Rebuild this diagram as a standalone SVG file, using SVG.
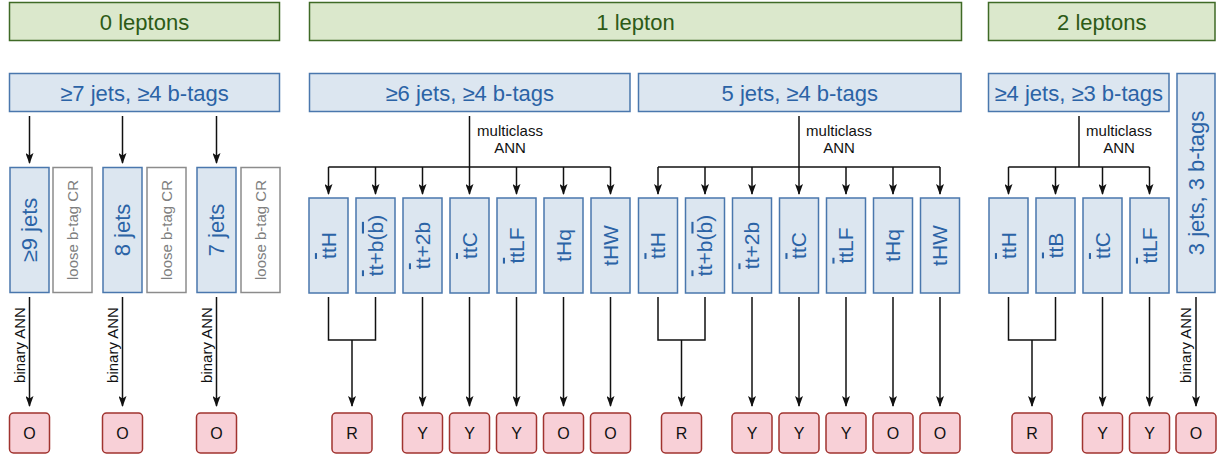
<svg xmlns="http://www.w3.org/2000/svg" width="1225" height="462" viewBox="0 0 1225 462">
<style>
.g{fill:#dbe8cc;stroke:#3f6a26;stroke-width:1.5}
.gt{fill:#2c5a16;font-family:"Liberation Sans",Arial,sans-serif;font-size:22px;text-anchor:middle}
.b{fill:#dce6f0;stroke:#4a77ad;stroke-width:1.5}
.bt{fill:#2b63a6;font-family:"Liberation Sans",Arial,sans-serif;font-size:22px;text-anchor:middle}
.ct{fill:#2b63a6;font-family:"Liberation Sans",Arial,sans-serif;font-size:21px;text-anchor:middle}
.l{fill:#ffffff;stroke:#8c8c8c;stroke-width:1.5}
.lt{fill:#7f7f7f;font-family:"Liberation Sans",Arial,sans-serif;font-size:15px;text-anchor:middle}
.r{fill:#f8d0d7;stroke:#a0332f;stroke-width:1.5}
.rt{fill:#111;font-family:"Liberation Sans",Arial,sans-serif;font-size:16px;text-anchor:middle}
.lbl{fill:#111;font-family:"Liberation Sans",Arial,sans-serif;font-size:15px;text-anchor:middle}
.ov{text-decoration:overline}
.c{fill:none;stroke:#111;stroke-width:1.5}
.a{fill:none;stroke:#111;stroke-width:1.5;marker-end:url(#ah)}
</style>
<defs>
<marker id="ah" viewBox="0 0 11 8" markerUnits="userSpaceOnUse" markerWidth="11" markerHeight="8" refX="10" refY="4" orient="auto">
<path d="M0,0 L11,4 L0,8 L2.5,4 z" fill="#111"/>
</marker>
</defs>

<!-- top category headers -->
<g id="lep0"><rect class="g" x="9.5" y="2.5" width="270" height="38"/><text class="gt" x="144.5" y="29.5">0 leptons</text></g>
<g id="lep1"><rect class="g" x="309.5" y="2.5" width="652" height="38"/><text class="gt" x="635.5" y="29.5">1 lepton</text></g>
<g id="lep2"><rect class="g" x="988.5" y="2.5" width="226.5" height="38"/><text class="gt" x="1101.75" y="29.5">2 leptons</text></g>

<!-- region headers -->
<g id="h0"><rect class="b" x="9.5" y="73.5" width="270" height="38"/><text class="bt" x="144.5" y="100.5">≥7 jets, ≥4 b-tags</text></g>
<g id="h1"><rect class="b" x="309.5" y="73.5" width="320.5" height="38"/><text class="bt" x="469.75" y="100.5">≥6 jets, ≥4 b-tags</text></g>
<g id="h2"><rect class="b" x="638.5" y="73.5" width="322.5" height="38"/><text class="bt" x="799.75" y="100.5">5 jets, ≥4 b-tags</text></g>
<g id="h3"><rect class="b" x="988.5" y="73.5" width="180.5" height="38"/><text class="bt" x="1078.75" y="100.5">≥4 jets, ≥3 b-tags</text></g>
<g id="h4"><rect class="b" x="1177" y="73.5" width="38" height="219"/><text class="bt" transform="translate(1196,183) rotate(-90)" y="7.7">3 jets, 3 b-tags</text></g>

<!-- 0 lepton jet bins -->
<g id="j9"><rect class="b" x="10" y="167.5" width="39" height="125"/><text class="bt" transform="translate(29.5,230) rotate(-90)" y="7.7">≥9 jets</text></g>
<g id="cr9"><rect class="l" x="53" y="167.5" width="39" height="125"/><text class="lt" transform="translate(72.5,230) rotate(-90)" y="5.3">loose b-tag CR</text></g>
<g id="j8"><rect class="b" x="103" y="167.5" width="39" height="125"/><text class="bt" transform="translate(122.5,230) rotate(-90)" y="7.7">8 jets</text></g>
<g id="cr8"><rect class="l" x="147" y="167.5" width="39" height="125"/><text class="lt" transform="translate(166.5,230) rotate(-90)" y="5.3">loose b-tag CR</text></g>
<g id="j7"><rect class="b" x="197" y="167.5" width="39" height="125"/><text class="bt" transform="translate(216.5,230) rotate(-90)" y="7.7">7 jets</text></g>
<g id="cr7"><rect class="l" x="241" y="167.5" width="39" height="125"/><text class="lt" transform="translate(260.5,230) rotate(-90)" y="5.3">loose b-tag CR</text></g>

<!-- 1 lepton, >=6 jets classes -->
<g id="a1"><rect class="b" x="309" y="198" width="39" height="95"/><text class="ct" transform="translate(328.5,245.5) rotate(-90)" y="7.4"><tspan class="ov">t</tspan>tH</text></g>
<g id="a2"><rect class="b" x="356" y="198" width="39" height="95"/><text class="ct" transform="translate(375.5,245.5) rotate(-90)" y="7.4"><tspan class="ov">t</tspan>t+b(<tspan class="ov">b</tspan>)</text></g>
<g id="a3"><rect class="b" x="403" y="198" width="39" height="95"/><text class="ct" transform="translate(422.5,245.5) rotate(-90)" y="7.4"><tspan class="ov">t</tspan>t+2b</text></g>
<g id="a4"><rect class="b" x="450" y="198" width="39" height="95"/><text class="ct" transform="translate(469.5,245.5) rotate(-90)" y="7.4"><tspan class="ov">t</tspan>tC</text></g>
<g id="a5"><rect class="b" x="497" y="198" width="39" height="95"/><text class="ct" transform="translate(516.5,245.5) rotate(-90)" y="7.4"><tspan class="ov">t</tspan>tLF</text></g>
<g id="a6"><rect class="b" x="544" y="198" width="39" height="95"/><text class="ct" transform="translate(563.5,245.5) rotate(-90)" y="7.4">tHq</text></g>
<g id="a7"><rect class="b" x="591" y="198" width="39" height="95"/><text class="ct" transform="translate(610.5,245.5) rotate(-90)" y="7.4">tHW</text></g>

<!-- 1 lepton, 5 jets classes -->
<g id="b1"><rect class="b" x="638.5" y="198" width="39" height="95"/><text class="ct" transform="translate(658,245.5) rotate(-90)" y="7.4"><tspan class="ov">t</tspan>tH</text></g>
<g id="b2"><rect class="b" x="685.5" y="198" width="39" height="95"/><text class="ct" transform="translate(705,245.5) rotate(-90)" y="7.4"><tspan class="ov">t</tspan>t+b(<tspan class="ov">b</tspan>)</text></g>
<g id="b3"><rect class="b" x="732.5" y="198" width="39" height="95"/><text class="ct" transform="translate(752,245.5) rotate(-90)" y="7.4"><tspan class="ov">t</tspan>t+2b</text></g>
<g id="b4"><rect class="b" x="779.5" y="198" width="39" height="95"/><text class="ct" transform="translate(799,245.5) rotate(-90)" y="7.4"><tspan class="ov">t</tspan>tC</text></g>
<g id="b5"><rect class="b" x="826.5" y="198" width="39" height="95"/><text class="ct" transform="translate(846,245.5) rotate(-90)" y="7.4"><tspan class="ov">t</tspan>tLF</text></g>
<g id="b6"><rect class="b" x="873.5" y="198" width="39" height="95"/><text class="ct" transform="translate(893,245.5) rotate(-90)" y="7.4">tHq</text></g>
<g id="b7"><rect class="b" x="920.5" y="198" width="39" height="95"/><text class="ct" transform="translate(940,245.5) rotate(-90)" y="7.4">tHW</text></g>

<!-- 2 leptons classes -->
<g id="c1"><rect class="b" x="989" y="198" width="39" height="95"/><text class="ct" transform="translate(1008.5,245.5) rotate(-90)" y="7.4"><tspan class="ov">t</tspan>tH</text></g>
<g id="c2"><rect class="b" x="1036" y="198" width="39" height="95"/><text class="ct" transform="translate(1055.5,245.5) rotate(-90)" y="7.4"><tspan class="ov">t</tspan>tB</text></g>
<g id="c3"><rect class="b" x="1083" y="198" width="39" height="95"/><text class="ct" transform="translate(1102.5,245.5) rotate(-90)" y="7.4"><tspan class="ov">t</tspan>tC</text></g>
<g id="c4"><rect class="b" x="1130" y="198" width="39" height="95"/><text class="ct" transform="translate(1149.5,245.5) rotate(-90)" y="7.4"><tspan class="ov">t</tspan>tLF</text></g>

<!-- outputs -->
<g id="o01"><rect class="r" x="9.5" y="413" width="40" height="40" rx="4"/><text class="rt" x="29.5" y="438.7">O</text></g>
<g id="o02"><rect class="r" x="102.5" y="413" width="40" height="40" rx="4"/><text class="rt" x="122.5" y="438.7">O</text></g>
<g id="o03"><rect class="r" x="196.5" y="413" width="40" height="40" rx="4"/><text class="rt" x="216.5" y="438.7">O</text></g>

<g id="oa1"><rect class="r" x="332" y="413" width="40" height="40" rx="4"/><text class="rt" x="352" y="438.7">R</text></g>
<g id="oa2"><rect class="r" x="402.5" y="413" width="40" height="40" rx="4"/><text class="rt" x="422.5" y="438.7">Y</text></g>
<g id="oa3"><rect class="r" x="449.5" y="413" width="40" height="40" rx="4"/><text class="rt" x="469.5" y="438.7">Y</text></g>
<g id="oa4"><rect class="r" x="496.5" y="413" width="40" height="40" rx="4"/><text class="rt" x="516.5" y="438.7">Y</text></g>
<g id="oa5"><rect class="r" x="543.5" y="413" width="40" height="40" rx="4"/><text class="rt" x="563.5" y="438.7">O</text></g>
<g id="oa6"><rect class="r" x="590.5" y="413" width="40" height="40" rx="4"/><text class="rt" x="610.5" y="438.7">O</text></g>

<g id="ob1"><rect class="r" x="661.5" y="413" width="40" height="40" rx="4"/><text class="rt" x="681.5" y="438.7">R</text></g>
<g id="ob2"><rect class="r" x="732" y="413" width="40" height="40" rx="4"/><text class="rt" x="752" y="438.7">Y</text></g>
<g id="ob3"><rect class="r" x="779" y="413" width="40" height="40" rx="4"/><text class="rt" x="799" y="438.7">Y</text></g>
<g id="ob4"><rect class="r" x="826" y="413" width="40" height="40" rx="4"/><text class="rt" x="846" y="438.7">Y</text></g>
<g id="ob5"><rect class="r" x="873" y="413" width="40" height="40" rx="4"/><text class="rt" x="893" y="438.7">O</text></g>
<g id="ob6"><rect class="r" x="920" y="413" width="40" height="40" rx="4"/><text class="rt" x="940" y="438.7">O</text></g>

<g id="oc1"><rect class="r" x="1012" y="413" width="40" height="40" rx="4"/><text class="rt" x="1032" y="438.7">R</text></g>
<g id="oc2"><rect class="r" x="1082.5" y="413" width="40" height="40" rx="4"/><text class="rt" x="1102.5" y="438.7">Y</text></g>
<g id="oc3"><rect class="r" x="1129.5" y="413" width="40" height="40" rx="4"/><text class="rt" x="1149.5" y="438.7">Y</text></g>
<g id="oc4"><rect class="r" x="1176" y="413" width="40" height="40" rx="4"/><text class="rt" x="1196" y="438.7">O</text></g>

<!-- connectors -->
<g id="connectors">
<path class="a" d="M29.5,116 V163"/>
<path class="a" d="M122.5,116 V163"/>
<path class="a" d="M216.5,116 V163"/>
<path class="a" d="M29.5,297 V406"/>
<path class="a" d="M122.5,297 V406"/>
<path class="a" d="M216.5,297 V406"/>
<text class="lbl" transform="translate(19.5,345) rotate(-90)" y="5.3">binary ANN</text>
<text class="lbl" transform="translate(112.5,345) rotate(-90)" y="5.3">binary ANN</text>
<text class="lbl" transform="translate(206.5,345) rotate(-90)" y="5.3">binary ANN</text>

<path class="c" d="M328.5,167 H610.5"/>
<path class="a" d="M469.5,116 V194"/>
<path class="a" d="M328.5,167 V194"/>
<path class="a" d="M375.5,167 V194"/>
<path class="a" d="M422.5,167 V194"/>
<path class="a" d="M516.5,167 V194"/>
<path class="a" d="M563.5,167 V194"/>
<path class="a" d="M610.5,167 V194"/>
<text class="lbl" x="510" y="136">multiclass</text>
<text class="lbl" x="510" y="153">ANN</text>
<path class="c" d="M328.5,297 V340 H375.5 V297"/>
<path class="a" d="M352,340 V406"/>
<path class="a" d="M422.5,297 V406"/>
<path class="a" d="M469.5,297 V406"/>
<path class="a" d="M516.5,297 V406"/>
<path class="a" d="M563.5,297 V406"/>
<path class="a" d="M610.5,297 V406"/>

<path class="c" d="M658,167 H940"/>
<path class="a" d="M799,116 V194"/>
<path class="a" d="M658,167 V194"/>
<path class="a" d="M705,167 V194"/>
<path class="a" d="M752,167 V194"/>
<path class="a" d="M846,167 V194"/>
<path class="a" d="M893,167 V194"/>
<path class="a" d="M940,167 V194"/>
<text class="lbl" x="839" y="136">multiclass</text>
<text class="lbl" x="839" y="153">ANN</text>
<path class="c" d="M658,297 V340 H705 V297"/>
<path class="a" d="M681.5,340 V406"/>
<path class="a" d="M752,297 V406"/>
<path class="a" d="M799,297 V406"/>
<path class="a" d="M846,297 V406"/>
<path class="a" d="M893,297 V406"/>
<path class="a" d="M940,297 V406"/>

<path class="c" d="M1079,116 V167"/>
<path class="c" d="M1008.5,167 H1149.5"/>
<path class="a" d="M1008.5,167 V194"/>
<path class="a" d="M1055.5,167 V194"/>
<path class="a" d="M1102.5,167 V194"/>
<path class="a" d="M1149.5,167 V194"/>
<text class="lbl" x="1119" y="136">multiclass</text>
<text class="lbl" x="1119" y="153">ANN</text>
<path class="c" d="M1008.5,297 V340 H1055.5 V297"/>
<path class="a" d="M1032,340 V406"/>
<path class="a" d="M1102.5,297 V406"/>
<path class="a" d="M1149.5,297 V406"/>
<path class="a" d="M1196,297 V406"/>
<text class="lbl" transform="translate(1186,345) rotate(-90)" y="5.3">binary ANN</text>
</g>
</svg>
